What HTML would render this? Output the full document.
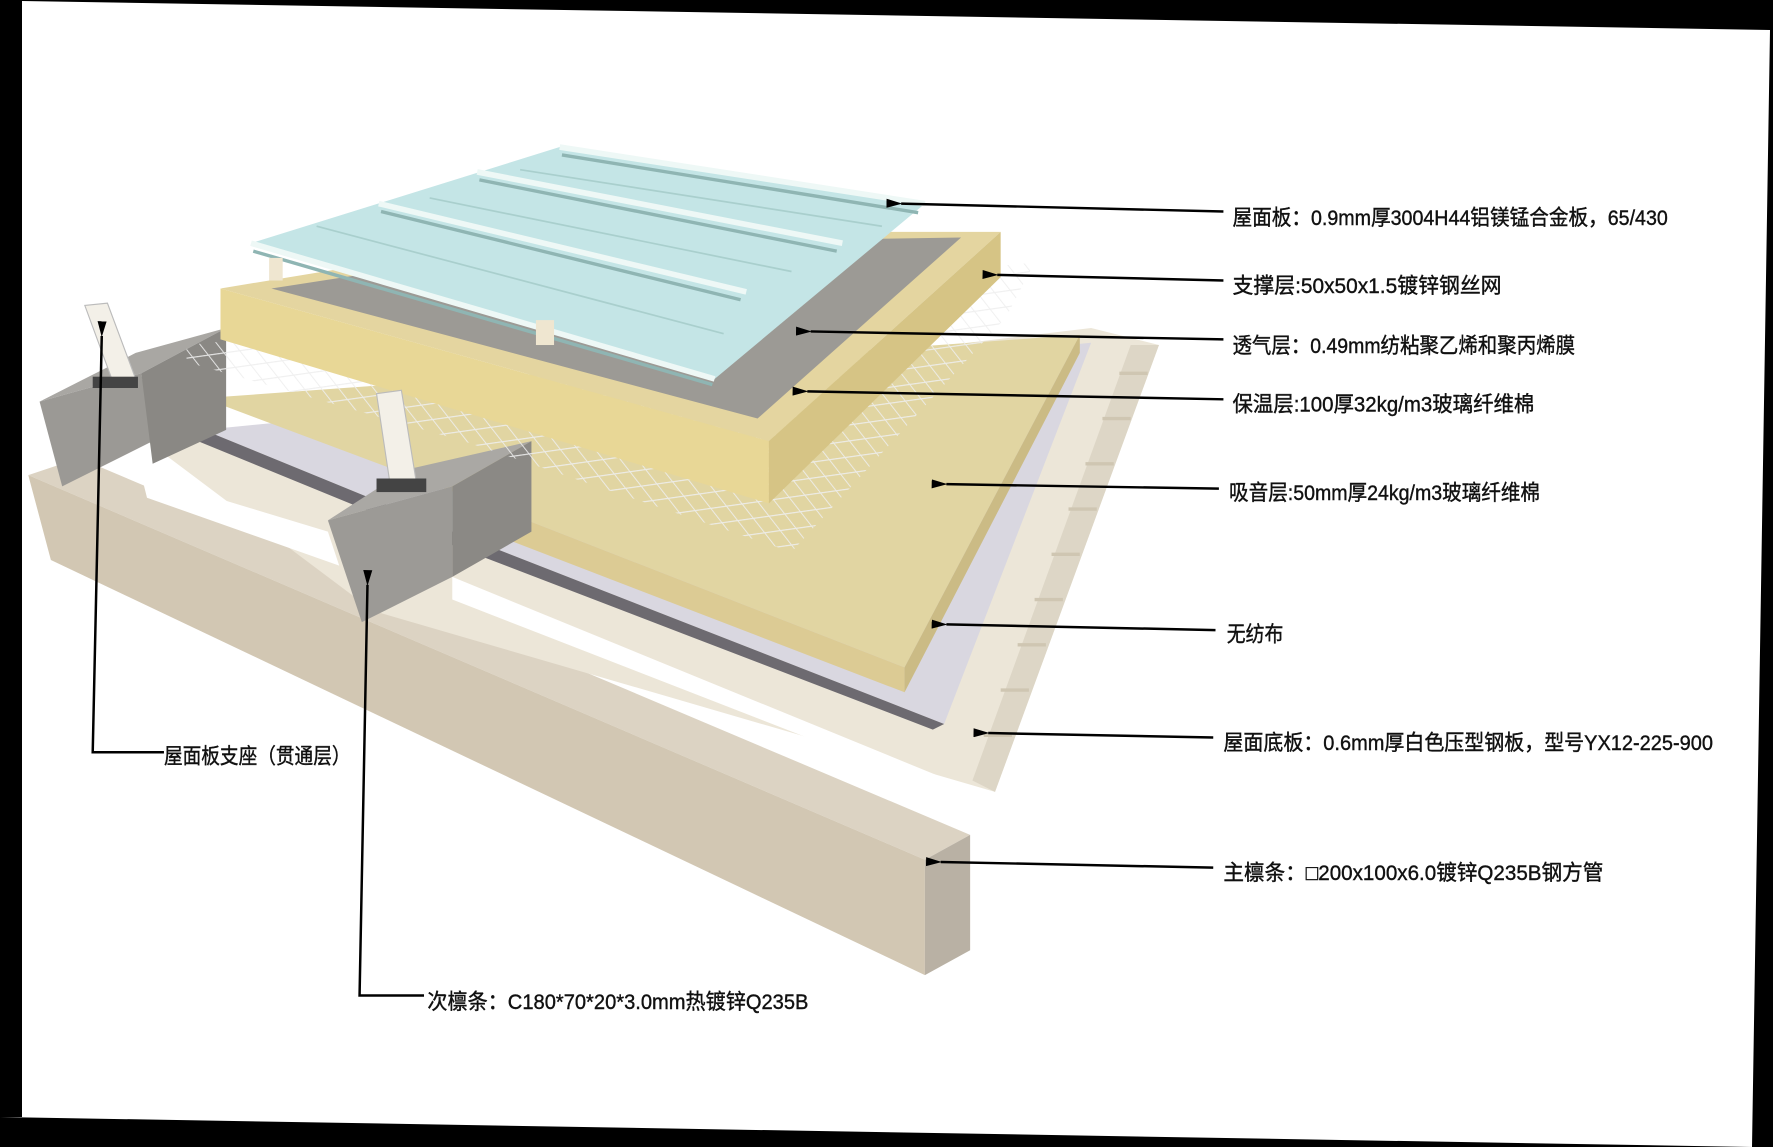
<!DOCTYPE html>
<html><head><meta charset="utf-8"><style>
html,body{margin:0;padding:0;background:#000;}
svg{display:block}
text{font-family:"Liberation Sans","Noto Sans CJK SC",sans-serif;font-size:19px;fill:#111;stroke:#111;stroke-width:0.35;}
</style></head><body>
<svg width="1773" height="1147" viewBox="0 0 1773 1147" xmlns="http://www.w3.org/2000/svg">
<rect width="1773" height="1147" fill="#000"/>
<polygon points="22,1 1770,30 1752,1147 0,1147 0,1117 22,1117" fill="#fff"/>
<polygon points="0,1117 1752,1147 0,1147" fill="#000"/>
<g transform="scale(1.1307,1.1312)">
<defs>
<marker id="ar" markerWidth="14" markerHeight="8" refX="1" refY="4" orient="auto" markerUnits="userSpaceOnUse">
<polygon points="0,4 14,0 14,8" fill="#000"/>
</marker>
<pattern id="mesh" width="14" height="14" patternUnits="userSpaceOnUse" patternTransform="rotate(-8) skewX(30)">
<path d="M0 0H14M0 0V14" stroke="#eeeeee" stroke-width="2" fill="none"/>
</pattern>
</defs>
<!-- main purlin -->
<polygon points="25,420 70,405 858,738 818,760" fill="#dcd3c3"/>
<polygon points="25,420 818,760 818,862 45,495" fill="#d2c7b3"/>
<polygon points="818,760 858,738 858,840 818,862" fill="#b9b1a4"/>
<!-- deck -->
<polygon points="130,390 965,290 1025,305 880,700 330,540" fill="#ece6d8"/>
<polygon points="125,420 290,470 300,500 130,440" fill="#ffffff"/>
<polygon points="400,510 840,690 850,705 400,530" fill="#ffffff"/>
<polygon points="1000,305 1025,305 880,700 860,690" fill="#ddd6c6"/>
<g stroke="#cfc6b2" stroke-width="3">
<line x1="1015" y1="330" x2="990" y2="330"/><line x1="1000" y1="370" x2="975" y2="370"/>
<line x1="985" y1="410" x2="960" y2="410"/><line x1="970" y1="450" x2="945" y2="450"/>
<line x1="955" y1="490" x2="930" y2="490"/><line x1="940" y1="530" x2="915" y2="530"/>
<line x1="925" y1="570" x2="900" y2="570"/><line x1="910" y1="610" x2="885" y2="610"/>
<line x1="895" y1="650" x2="870" y2="650"/>
</g>
<!-- nonwoven -->
<polygon points="180,380 965,303 835,640 400,470" fill="#d9d7e0"/>
<polygon points="180,380 400,470 835,640 825,645 395,480 175,390" fill="#6d6a70"/>
<!-- 50mm absorb layer -->
<polygon points="180,352 955,296 800,590 410,438" fill="#e1d5a2"/>
<polygon points="410,438 800,590 800,612 410,462" fill="#dccb94"/>
<polygon points="800,590 955,296 955,312 800,612" fill="#cbbb85"/>
<!-- secondary purlins -->
<polygon points="35,355 125,330 200,290 120,312" fill="#a9a7a3"/>
<polygon points="35,355 125,330 135,390 55,430" fill="#9b9995"/>
<polygon points="125,330 200,290 200,380 135,410" fill="#8a8884"/>
<polygon points="290,460 400,430 470,390 360,415" fill="#aaa8a4"/>
<polygon points="290,460 400,430 400,510 320,550" fill="#9c9a96"/>
<polygon points="400,430 470,390 470,470 400,510" fill="#8b8985"/>
<!-- mesh -->
<polygon points="165,305 915,232 890,280 700,488 410,390 165,320" fill="url(#mesh)" opacity="0.9"/>
<!-- 100mm insulation -->
<polygon points="195,255 500,205 885,205 680,390" fill="#e4d5a0"/>
<polygon points="240,255 500,215 850,210 670,370" fill="#9c9a95"/>
<polygon points="195,255 680,390 680,445 195,300" fill="#e8d796"/>
<polygon points="680,390 885,205 885,245 680,445" fill="#d6c485"/>
<!-- roof panel -->
<polygon points="222,215 495,130 818,180 632,335" fill="#c4e5e6"/>
<g stroke="#8fb5b3" stroke-width="3">
<line x1="497" y1="137" x2="812" y2="188"/>
<line x1="424" y1="159" x2="740" y2="222"/>
<line x1="337" y1="187" x2="655" y2="265"/>
<line x1="224" y1="222" x2="630" y2="340"/>
</g>
<g stroke="#eef8f6" stroke-width="5">
<line x1="495" y1="130" x2="818" y2="180"/>
<line x1="422" y1="152" x2="745" y2="215"/>
<line x1="335" y1="180" x2="660" y2="258"/>
<line x1="222" y1="215" x2="632" y2="335"/>
</g>
<g stroke="#a9cfcd" stroke-width="1.5">
<line x1="460" y1="150" x2="780" y2="200"/>
<line x1="380" y1="175" x2="700" y2="240"/>
<line x1="280" y1="200" x2="640" y2="295"/>
</g>
<rect x="474" y="283" width="16" height="22" fill="#efe6d0"/>
<rect x="238" y="228" width="12" height="20" fill="#efe6d0"/>
<!-- supports -->
<polygon points="75,270 95,268 120,335 100,338" fill="#f3f0e8" stroke="#bbb"/>
<rect x="82" y="333" width="40" height="10" fill="#444"/>
<polygon points="333,348 355,345 368,425 345,428" fill="#f3f0e8" stroke="#bbb"/>
<rect x="333" y="423" width="44" height="12" fill="#444"/>
<!-- leader lines -->
<g stroke="#000" stroke-width="2.2" fill="none">
<line x1="1082" y1="187" x2="797" y2="180" marker-end="url(#ar)"/>
<line x1="1082" y1="248" x2="882" y2="243" marker-end="url(#ar)"/>
<line x1="1082" y1="300" x2="717" y2="293" marker-end="url(#ar)"/>
<line x1="1082" y1="353" x2="714" y2="346" marker-end="url(#ar)"/>
<line x1="1078" y1="432" x2="837" y2="428" marker-end="url(#ar)"/>
<line x1="1075" y1="557" x2="837" y2="552" marker-end="url(#ar)"/>
<line x1="1073" y1="652" x2="874" y2="648" marker-end="url(#ar)"/>
<line x1="1073" y1="767" x2="832" y2="762" marker-end="url(#ar)"/>
<polyline points="145,665 82,665 90,297" marker-end="url(#ar)"/>
<polyline points="375,880 318,880 325,517" marker-end="url(#ar)"/>
</g>
<text x="1090" y="199" textLength="385" lengthAdjust="spacingAndGlyphs">屋面板：0.9mm厚3004H44铝镁锰合金板，65/430</text>
<text x="1090" y="259" textLength="238" lengthAdjust="spacingAndGlyphs">支撑层:50x50x1.5镀锌钢丝网</text>
<text x="1090" y="312" textLength="303" lengthAdjust="spacingAndGlyphs">透气层：0.49mm纺粘聚乙烯和聚丙烯膜</text>
<text x="1090" y="364" textLength="267" lengthAdjust="spacingAndGlyphs">保温层:100厚32kg/m3玻璃纤维棉</text>
<text x="1087" y="442" textLength="275" lengthAdjust="spacingAndGlyphs">吸音层:50mm厚24kg/m3玻璃纤维棉</text>
<text x="1085" y="567" textLength="50" lengthAdjust="spacingAndGlyphs">无纺布</text>
<text x="1082" y="663" textLength="433" lengthAdjust="spacingAndGlyphs">屋面底板：0.6mm厚白色压型钢板，型号YX12-225-900</text>
<text x="1082" y="778" textLength="336" lengthAdjust="spacingAndGlyphs">主檩条：□200x100x6.0镀锌Q235B钢方管</text>
<text x="145" y="675" textLength="165" lengthAdjust="spacingAndGlyphs">屋面板支座（贯通层）</text>
<text x="378" y="892" textLength="337" lengthAdjust="spacingAndGlyphs">次檩条：C180*70*20*3.0mm热镀锌Q235B</text>
</g>
</svg>
</body></html>
